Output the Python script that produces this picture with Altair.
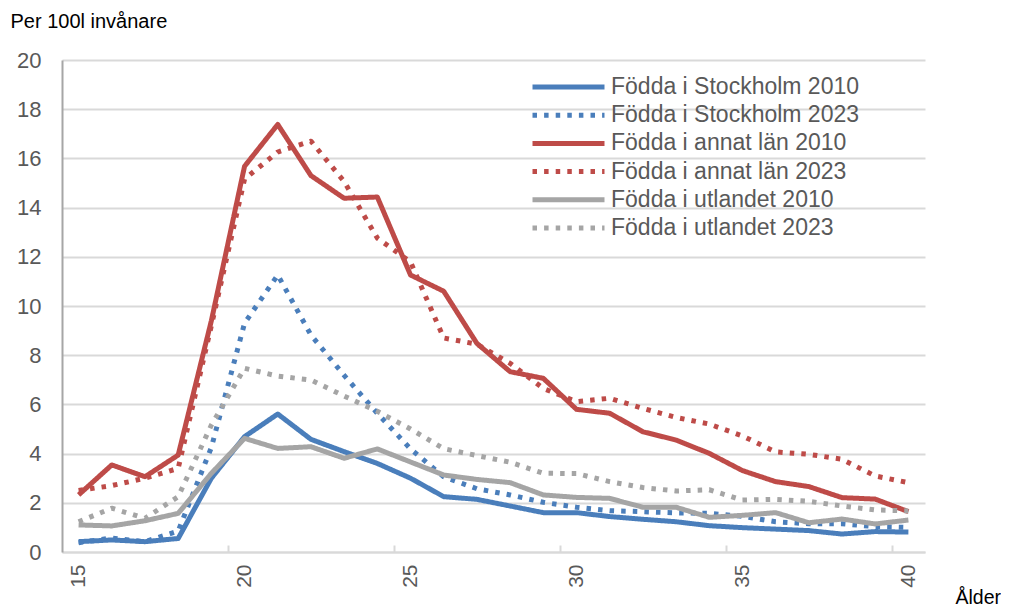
import altair as alt
import pandas as pd

ages = list(range(15, 41))

series_names = [
    "Födda i Stockholm 2010",
    "Födda i Stockholm 2023",
    "Födda i annat län 2010",
    "Födda i annat län 2023",
    "Födda i utlandet 2010",
    "Födda i utlandet 2023",
]

sthlm_2010 = [0.42, 0.49, 0.42, 0.55, 3.0, 4.69, 5.61, 4.58, 4.08, 3.6, 3.0, 2.25, 2.14,
              1.87, 1.6, 1.6, 1.44, 1.33, 1.23, 1.07, 0.99, 0.93, 0.87, 0.73, 0.83, 0.81]
sthlm_2023 = [0.38, 0.57, 0.42, 0.85, 4.25, 9.3, 11.26, 8.82, 7.18, 5.64, 4.19, 3.06, 2.57,
              2.32, 2.02, 1.82, 1.68, 1.64, 1.59, 1.57, 1.45, 1.23, 1.15, 1.15, 1.03, 1.0]
annat_2010 = [2.32, 3.54, 3.06, 3.94, 9.4, 15.68, 17.38, 15.3, 14.38, 14.43, 11.26, 10.6, 8.48,
              7.33, 7.06, 5.8, 5.64, 4.89, 4.55, 4.01, 3.31, 2.86, 2.66, 2.21, 2.15, 1.64]
annat_2023 = [2.5, 2.7, 3.0, 3.4, 9.2, 15.16, 16.26, 16.7, 15.06, 12.76, 11.79, 8.7, 8.45,
              7.67, 6.65, 6.11, 6.25, 5.84, 5.47, 5.2, 4.72, 4.07, 3.97, 3.77, 3.09, 2.82]
utl_2010 = [1.1, 1.06, 1.27, 1.57, 3.2, 4.62, 4.21, 4.28, 3.81, 4.19, 3.66, 3.13, 2.95,
            2.82, 2.32, 2.22, 2.18, 1.82, 1.82, 1.41, 1.49, 1.6, 1.19, 1.34, 1.14, 1.3]
utl_2023 = [1.23, 1.78, 1.37, 2.25, 5.16, 7.47, 7.15, 6.99, 6.34, 5.72, 5.0, 4.2, 3.92,
            3.65, 3.2, 3.19, 2.86, 2.62, 2.48, 2.53, 2.11, 2.14, 2.06, 1.87, 1.71, 1.67]

series_values = [sthlm_2010, sthlm_2023, annat_2010, annat_2023, utl_2010, utl_2023]

x_label_values = [15, 20, 25, 30, 35, 40]
x_tick_values = [19.5, 24.5, 29.5, 34.5, 39.5]
y_tick_values = [0, 2, 4, 6, 8, 10, 12, 14, 16, 18, 20]

colors = ["#4A7EBB", "#4A7EBB", "#BE4B48", "#BE4B48", "#A5A5A5", "#A5A5A5"]
dashes = [[1, 0], [4.5, 7.1], [1, 0], [4.5, 7.1], [1, 0], [4.5, 7.1]]

rows = []
for name, vals in zip(series_names, series_values):
    for a, v in zip(ages, vals):
        rows.append({"age": a, "value": v, "series": name})
df = pd.DataFrame(rows)

FONT = "Arial, Liberation Sans, sans-serif"
W, H = 863, 492

x_scale = alt.Scale(domain=[14.5, 40.5], nice=False, zero=False)
y_scale = alt.Scale(domain=[0, 20], nice=False, zero=True)

legend = alt.Legend(
    title=None,
    orient="none",
    legendX=468,
    legendY=13,
    direction="vertical",
    padding=0,
    symbolType="stroke",
    symbolSize=5184,
    symbolStrokeWidth=5,
    labelFontSize=23,
    labelColor="#595959",
    labelFont=FONT,
    labelOffset=4,
    labelLimit=500,
    clipHeight=28,
    rowPadding=0.2,
)

lines = alt.Chart(df).mark_line(
    strokeWidth=5, strokeCap="butt", strokeJoin="round"
).encode(
    x=alt.X(
        "age:Q",
        scale=x_scale,
        axis=alt.Axis(
            values=x_label_values,
            ticks=False,
            labelAngle=-90,
            labelFontSize=21,
            labelColor="#595959",
            labelFont=FONT,
            labelPadding=12,
            domainColor="#D9D9D9",
            domainWidth=2,
            grid=False,
            title="Ålder",
            titleX=893,
            titleY=51,
            titleAlign="left",
            titleBaseline="alphabetic",
            titleFontSize=19.5,
            titleFontWeight="normal",
            titleColor="#000000",
            titleFont=FONT,
        ),
    ),
    y=alt.Y(
        "value:Q",
        scale=y_scale,
        axis=alt.Axis(
            values=y_tick_values,
            ticks=False,
            labelFontSize=22,
            labelColor="#595959",
            labelFont=FONT,
            labelPadding=21,
            domainColor="#A6A6A6",
            domainWidth=2,
            grid=True,
            gridColor="#D9D9D9",
            gridWidth=2,
            title="Per 100l invånare",
            titleAngle=0,
            titleX=-52,
            titleY=-33,
            titleAlign="left",
            titleBaseline="alphabetic",
            titleFontSize=20,
            titleFontWeight="normal",
            titleColor="#000000",
            titleFont=FONT,
        ),
    ),
    color=alt.Color("series:N", scale=alt.Scale(domain=series_names, range=colors), legend=legend),
    strokeDash=alt.StrokeDash("series:N", scale=alt.Scale(domain=series_names, range=dashes), legend=legend),
)

ticks_layer = alt.Chart(df).mark_line(strokeOpacity=0).encode(
    x=alt.X(
        "age:Q",
        scale=x_scale,
        axis=alt.Axis(
            orient="top",
            offset=-H,
            values=x_tick_values,
            labels=False,
            domain=False,
            ticks=True,
            tickSize=7,
            tickColor="#D9D9D9",
            tickWidth=2,
            grid=False,
            title=None,
        ),
    ),
    y=alt.Y(
        "value:Q",
        scale=y_scale,
        axis=alt.Axis(
            orient="left",
            labels=False,
            ticks=False,
            domain=False,
            grid=False,
            title=None,
        ),
    ),
    detail="series:N",
)

chart = alt.layer(lines, ticks_layer).resolve_axis(
    x="independent", y="independent"
).properties(
    width=W,
    height=H,
    autosize="none",
    padding={"left": 54, "top": 52, "right": 76, "bottom": 55},
).configure(font=FONT).configure_view(stroke="transparent", strokeWidth=0)

chart.save("out.html", embed_options={"renderer": "svg", "actions": False})
